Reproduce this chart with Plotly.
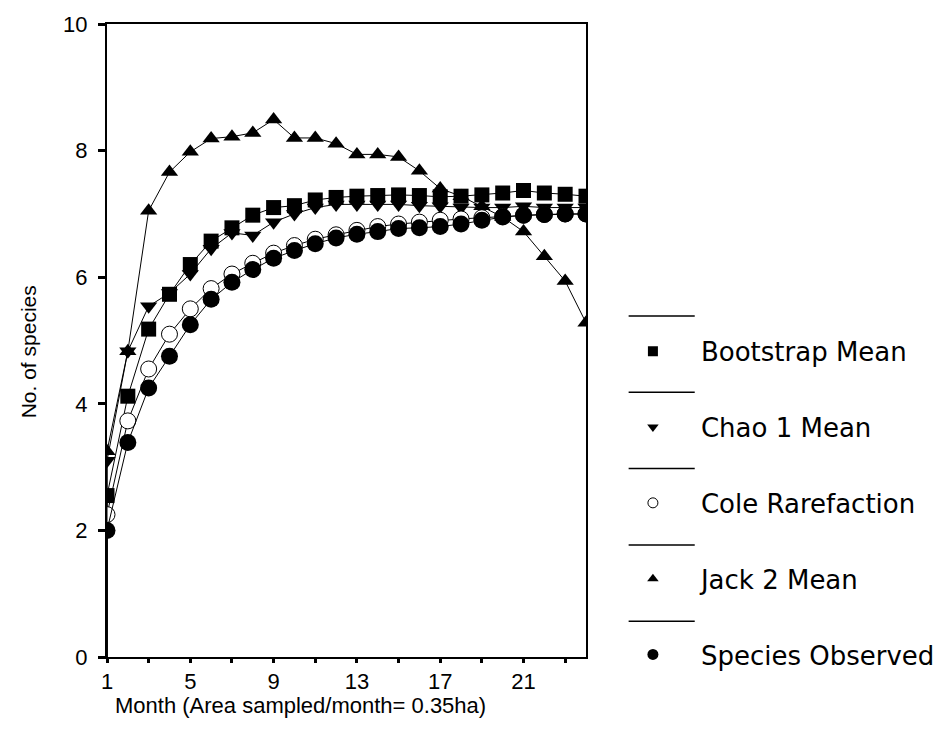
import plotly.graph_objects as go

# ---- data ----
months = list(range(1, 25))
start_month = 1
start_value = 0.0

bootstrap = [2.55, 4.12, 5.18, 5.73, 6.20, 6.57, 6.78, 6.98, 7.10, 7.13, 7.22, 7.26,
             7.28, 7.29, 7.30, 7.29, 7.27, 7.28, 7.30, 7.33, 7.37, 7.33, 7.31, 7.28]
chao1 = [3.10, 4.83, 5.54, 5.75, 6.05, 6.45, 6.70, 6.66, 6.87, 7.00, 7.10, 7.15,
         7.15, 7.15, 7.15, 7.13, 7.12, 7.10, 7.10, 7.10, 7.12, 7.10, 7.10, 7.10]
cole = [2.25, 3.73, 4.55, 5.10, 5.50, 5.82, 6.05, 6.22, 6.38, 6.50, 6.60, 6.67,
        6.74, 6.80, 6.84, 6.87, 6.90, 6.92, 6.94, 6.96, 6.98, 6.99, 7.00, 7.00]
jack2 = [3.25, 4.83, 7.05, 7.66, 7.98, 8.19, 8.22, 8.28, 8.49, 8.20, 8.20, 8.11,
         7.94, 7.94, 7.90, 7.68, 7.40, 7.28, 7.12, 6.95, 6.72, 6.33, 5.94, 5.28]
observed = [2.00, 3.39, 4.25, 4.75, 5.25, 5.65, 5.92, 6.12, 6.30, 6.42, 6.53, 6.62,
            6.68, 6.72, 6.77, 6.78, 6.80, 6.84, 6.90, 6.95, 6.98, 6.99, 7.00, 7.00]

series_names = ["Bootstrap Mean", "Chao 1 Mean", "Cole Rarefaction", "Jack 2 Mean", "Species Observed"]
series_values = [bootstrap, chao1, cole, jack2, observed]

x_tickvals = list(range(1, 24, 2))
x_ticklabels = ["1", "", "5", "", "9", "", "13", "", "17", "", "21", ""]
y_tickvals = [0, 2, 4, 6, 8, 10]

# ---- styles ----
styles = {
    "Bootstrap Mean": dict(symbol="square", size=15, color="black", line=dict(width=0)),
    "Chao 1 Mean": dict(symbol="triangle-down", size=15, color="black", line=dict(width=0)),
    "Cole Rarefaction": dict(symbol="circle", size=16, color="white", line=dict(width=1, color="black")),
    "Jack 2 Mean": dict(symbol="triangle-up", size=15, color="black", line=dict(width=0)),
    "Species Observed": dict(symbol="circle", size=17, color="black", line=dict(width=0)),
}
legend_sizes = {
    "Bootstrap Mean": 10, "Chao 1 Mean": 10, "Cole Rarefaction": 10,
    "Jack 2 Mean": 10, "Species Observed": 11,
}

fig = go.Figure()

for name, vals in zip(series_names, series_values):
    st = styles[name]
    xs = [start_month] + months
    ys = [start_value] + vals
    sizes = [0] + [st["size"]] * len(vals)
    fig.add_trace(go.Scatter(
        x=xs, y=ys, mode="lines+markers", name=name, showlegend=False,
        line=dict(color="black", width=1),
        marker=dict(symbol=st["symbol"], size=sizes, color=st["color"], line=st["line"],
                    opacity=1),
        cliponaxis=True,
    ))

# legend entries (marker only, as in the reference)
for i, name in enumerate(series_names):
    st = styles[name]
    fig.add_trace(go.Scatter(
        x=[None], y=[None], mode="markers", name=name, legendgroup=f"g{i}",
        marker=dict(symbol=st["symbol"], size=legend_sizes[name], color=st["color"], opacity=1,
                    line=dict(width=1 if name == "Cole Rarefaction" else 0, color="black")),
    ))

axis_font = dict(family="Liberation Sans, Arial, sans-serif", size=22, color="black")

fig.update_layout(
    width=952, height=736,
    margin=dict(l=107, r=364, t=22, b=79),
    paper_bgcolor="white", plot_bgcolor="white",
    font=axis_font,
    showlegend=True,
    legend=dict(
        x=1.0395, y=0.52, xanchor="left", yanchor="top",
        font=dict(family="DejaVu Sans, sans-serif", size=26, color="black"),
        tracegroupgap=39, bgcolor="rgba(0,0,0,0)", borderwidth=0,
        itemwidth=86,
    ),
    xaxis=dict(
        range=[1, 24], tickmode="array", tickvals=x_tickvals, ticktext=x_ticklabels,
        ticks="outside", ticklen=4, tickwidth=3, tickcolor="black",
        showline=True, linecolor="black", linewidth=2, mirror=True,
        showgrid=False, zeroline=False, tickfont=axis_font,
    ),
    yaxis=dict(
        range=[0, 10], tickmode="array", tickvals=y_tickvals,
        ticks="outside", ticklen=7, tickwidth=3, tickcolor="black",
        showline=True, linecolor="black", linewidth=2, mirror=True,
        showgrid=False, zeroline=False, tickfont=axis_font, ticklabelstandoff=6,
    ),
    annotations=[
        dict(text="Month (Area sampled/month= 0.35ha)", xref="paper", yref="paper",
             x=0.403, y=-0.077, xanchor="center", yanchor="middle", showarrow=False,
             font=axis_font),
        dict(text="No. of species", xref="paper", yref="paper", textangle=-90,
             x=-0.164, y=0.482, xanchor="center", yanchor="middle", showarrow=False,
             font=dict(family="Liberation Sans, Arial, sans-serif", size=21, color="black")),
    ],
)

# short rules drawn above each legend entry, as in the reference
rule_top = 0.5386
rule_step = 0.1205
for i in range(len(series_names)):
    yy = rule_top - i * rule_step
    fig.add_shape(type="line", xref="paper", yref="paper",
                  x0=1.089, x1=1.227, y0=yy, y1=yy,
                  line=dict(color="black", width=1.5))

fig.write_html("out.html", config={"displayModeBar": False},
               post_script="document.body.style.margin='0';")
